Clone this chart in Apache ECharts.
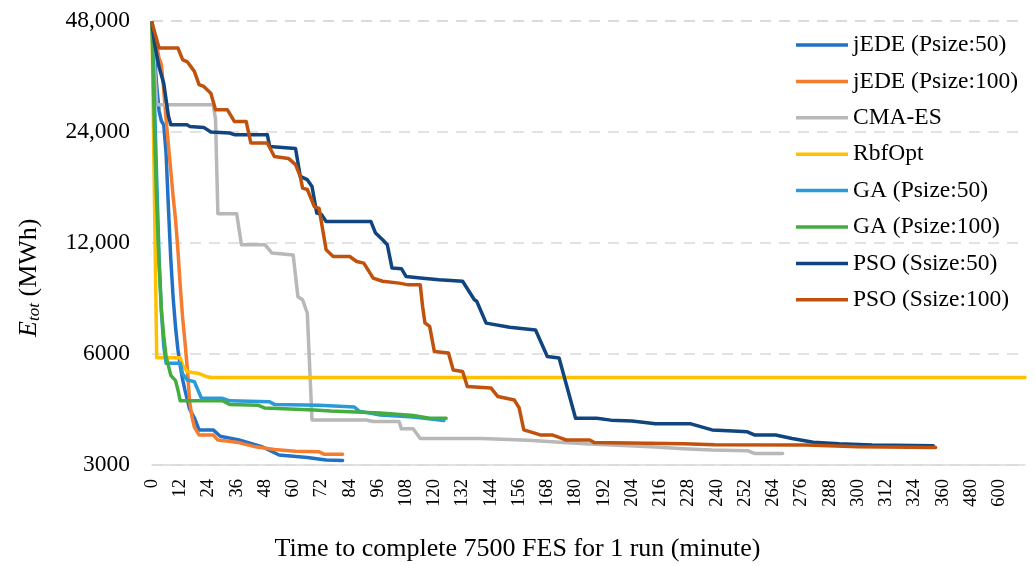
<!DOCTYPE html>
<html><head><meta charset="utf-8">
<script src="https://cdn.jsdelivr.net/npm/echarts@6/dist/echarts.min.js"></script>
<style>html,body{margin:0;padding:0;background:#fff}#c{width:1035px;height:566px}</style>
</head><body><div id="c"></div>
<script>
// x categories (minutes): 0..335 every minute, then 360..710 every 10 minutes
const minuteCategories = [];
for (let m = 0; m <= 335; m++) minuteCategories.push(String(m));
for (let m = 360; m <= 710; m += 10) minuteCategories.push(String(m));
const xTickEvery = 12; // labels shown: 0,12,...,324,360,480,600
const yTicks = [3000, 6000, 12000, 24000, 48000];

const seriesNames = ['jEDE (Psize:50)','jEDE (Psize:100)','CMA-ES','RbfOpt','GA (Psize:50)','GA (Psize:100)','PSO (Ssize:50)','PSO (Ssize:100)'];
const seriesColors = ['#2171C7','#F47D2F','#B8B8B8','#FFC000','#2A9AD8','#45AC40','#11457F','#C0520E'];

// [category index, E_tot (MWh)]
const jede50 = [[0,47500],[1,39000],[2,32000],[3,27400],[4,25700],[5,25100],[6,20900],[7,14850],[8,10800],[9,8500],[10,7100],[11,6170],[12,5580],[13,5120],[14,4790],[16,4250],[18,4030],[20,3735],[26,3735],[29,3590],[37,3507],[47,3357],[54,3193],[66,3145],[74,3095],[81,3085]];
const jede100 = [[0,47500],[3,38100],[4,36550],[5,31100],[6,26000],[7,22000],[8,18800],[9,16000],[10,13900],[11,11500],[12,9200],[13,7540],[14,6480],[15,5480],[16,4450],[17,4050],[18,3800],[20,3620],[26,3620],[28,3507],[36,3460],[44,3360],[52,3305],[61,3270],[71,3260],[73,3210],[81,3210]];
const cmaes = [[0,47500],[2,28470],[26,28470],[27,26000],[28,14400],[36,14400],[38,11870],[48,11870],[51,11270],[60,11140],[62,8580],[64,8420],[66,7740],[68,3975],[91,3975],[94,3935],[105,3935],[106,3760],[111,3760],[114,3540],[140,3540],[160,3500],[175,3450],[186,3420],[212,3360],[226,3320],[238,3295],[253,3280],[256,3225],[268,3225]];
const rbfopt = [[0,47500],[2,5860],[12,5860],[13,5600],[15,5370],[20,5310],[23,5215],[25,5180],[371,5180]];
const ga50 = [[0,47500],[1,30000],[2,18000],[3,11000],[4,7800],[5,6300],[6,5665],[12,5665],[13,5300],[15,5100],[18,5050],[21,4550],[30,4550],[33,4480],[50,4450],[52,4380],[71,4360],[86,4310],[88,4200],[97,4100],[111,4050],[124,3960]];
const ga100 = [[0,47500],[1,25000],[2,15500],[3,10500],[4,7900],[5,6700],[6,5900],[8,5250],[10,5080],[11,4800],[12,4480],[30,4480],[33,4375],[45,4360],[48,4280],[69,4230],[76,4200],[97,4150],[111,4085],[118,4020],[125,4020]];
const pso50 = [[0,47500],[1,42000],[3,36000],[5,32500],[7,26500],[8,25100],[15,25100],[16,24850],[22,24700],[25,24000],[33,23850],[35,23600],[49,23600],[50,21930],[61,21650],[63,18190],[66,17820],[68,17080],[70,14470],[72,14350],[74,13730],[93,13730],[95,12770],[98,12240],[100,11870],[102,10260],[106,10220],[108,9730],[114,9640],[122,9535],[132,9450],[137,8420],[138,8340],[142,7275],[152,7095],[163,6970],[168,5905],[173,5855],[180,4017],[189,4017],[195,3970],[204,3950],[214,3880],[229,3880],[232,3830],[238,3735],[247,3710],[253,3690],[256,3620],[265,3620],[272,3540],[281,3460],[292,3425],[306,3400],[332,3385]];
const pso100 = [[0,47500],[3,40560],[11,40560],[13,37700],[15,37200],[18,35050],[20,32250],[22,31900],[25,30550],[27,27590],[32,27590],[35,25640],[40,25640],[42,22410],[49,22410],[52,20600],[58,20350],[61,19570],[63,18190],[64,16910],[66,16760],[69,15070],[71,14900],[74,11500],[77,11030],[84,11030],[87,10690],[90,10580],[94,9640],[98,9450],[105,9340],[109,9240],[114,9240],[115,8070],[116,7285],[118,7130],[120,6090],[126,6040],[128,5430],[132,5380],[134,4895],[144,4855],[147,4600],[154,4500],[156,4290],[158,3735],[165,3620],[170,3620],[173,3565],[176,3507],[186,3507],[188,3450],[226,3425],[239,3405],[278,3400],[300,3360],[333,3345]];

const allData = [jede50, jede100, cmaes, rbfopt, ga50, ga100, pso50, pso100];
const FONT = "'Liberation Serif','Times New Roman',serif";

function nearestTick(v) {
  let best = yTicks[0];
  for (const t of yTicks) if (Math.abs(Math.log(t / v)) < Math.abs(Math.log(best / v))) best = t;
  return best;
}

const chart = echarts.init(document.getElementById('c'), null, {renderer: 'canvas'});
chart.setOption({
  animation: false,
  backgroundColor: '#fff',
  grid: {left: 152, right: 10, top: 21, bottom: 101, containLabel: false},
  legend: {
    orient: 'vertical', left: 791, top: 27,
    icon: 'rect', itemWidth: 52, itemHeight: 3.5, itemGap: 10.4,
    textStyle: {fontFamily: FONT, fontSize: 23.5, color: '#000', lineHeight: 26},
    data: seriesNames
  },
  xAxis: {
    type: 'category', boundaryGap: false, data: minuteCategories,
    axisLine: {lineStyle: {color: '#D9D9D9', width: 1.5}},
    axisTick: {show: false},
    axisLabel: {interval: (i) => i % xTickEvery === 0, rotate: 90, margin: 14, fontFamily: FONT, fontSize: 18.5, color: '#000'},
    splitLine: {show: false}
  },
  yAxis: {
    type: 'log', logBase: 2, min: yTicks[0], max: yTicks[yTicks.length - 1], interval: 1,
    axisLine: {show: false}, axisTick: {show: false},
    axisLabel: {margin: 22, fontFamily: FONT, fontSize: 23.5, color: '#000',
      formatter: (v) => { const r = nearestTick(v); return r >= 10000 ? r.toLocaleString('en-US') : String(r); }},
    splitLine: {lineStyle: {color: '#D9D9D9', width: 1.5, type: [11, 8]}}
  },
  graphic: [
    {type: 'text', left: 'center', top: 536, style: {text: 'Time to complete 7500 FES for 1 run (minute)', font: "26px 'Liberation Serif','Times New Roman',serif", fill: '#000'}},
    {type: 'group', x: 29, y: 337, rotation: Math.PI / 2, children: [
      {type: 'text', x: 0, y: 0, style: {text: 'E', font: "italic 26px 'Liberation Serif',serif", fill: '#000', textAlign: 'left', textVerticalAlign: 'middle', verticalAlign: 'middle'}},
      {type: 'text', x: 16, y: 6, style: {text: 'tot', font: "italic 17px 'Liberation Serif',serif", fill: '#000', textAlign: 'left', textVerticalAlign: 'middle', verticalAlign: 'middle'}},
      {type: 'text', x: 34, y: 0, style: {text: ' (MWh)', font: "26px 'Liberation Serif',serif", fill: '#000', textAlign: 'left', textVerticalAlign: 'middle', verticalAlign: 'middle'}}
    ]}
  ],
  series: seriesNames.map((name, k) => ({
    name, type: 'line', data: allData[k], showSymbol: false, symbol: 'none',
    color: seriesColors[k],
    itemStyle: {color: seriesColors[k]},
    lineStyle: {width: 3.5, color: seriesColors[k], join: 'round', cap: 'round'},
    emphasis: {disabled: true}
  }))
});
</script></body></html>
